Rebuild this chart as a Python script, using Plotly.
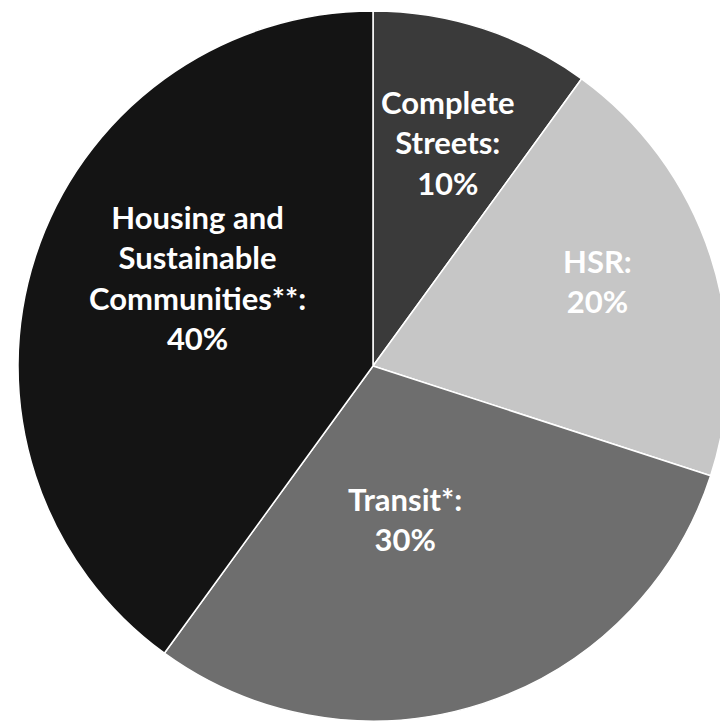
import math
import plotly.graph_objects as go

#-------------------------------------------------------------------------------
#    Data
#-------------------------------------------------------------------------------
labels = ['Complete Streets', 'HSR', 'Transit*', 'Housing and Sustainable Communities**']
shares = [10, 20, 30, 40]
label_text = [
    'Complete<br>Streets:<br>10%',
    'HSR:<br>20%',
    'Transit*:<br>30%',
    'Housing and<br>Sustainable<br>Communities**:<br>40%',
]

# style
colors = ['#3a3a3a', '#c6c6c6', '#6e6e6e', '#141414']
label_radius = [0.665, 0.677, 0.44, 0.555]   # fraction of pie radius
label_turn = [0.5, -2.7, 6.2, 8.8]           # degrees off the slice mid-angle

# page body has an 8px margin, so the figure is a bit smaller than the window
W, H = 720, 718
margin = dict(l=10, r=0, t=3, b=5)

#-------------------------------------------------------------------------------
#    Pie
#-------------------------------------------------------------------------------
fig = go.Figure(go.Pie(
    labels=labels,
    values=shares,
    sort=False,
    direction='clockwise',
    rotation=0,
    marker=dict(colors=colors, line=dict(color='white', width=1.5)),
    textinfo='none',
    hoverinfo='label+percent',
    showlegend=False,
))

# put the labels near the slice mid-angles (computed from the values)
pw = W - margin['l'] - margin['r']
ph = H - margin['t'] - margin['b']
R = min(pw, ph) / 2
total = sum(shares)
cum = 0
for txt, v, rf, turn in zip(label_text, shares, label_radius, label_turn):
    mid = (cum + v / 2) / total * 2 * math.pi + math.radians(turn)
    cum += v
    fig.add_annotation(
        x=0.5 + rf * R * math.sin(mid) / pw,
        y=0.5 + rf * R * math.cos(mid) / ph,
        xref='paper', yref='paper',
        xanchor='center', yanchor='middle',
        text=txt, showarrow=False,
        font=dict(family='Lato', size=31, color='white', weight='bold'),
        align='center',
    )

fig.update_layout(
    width=W, height=H,
    margin=margin,
    paper_bgcolor='white',
    plot_bgcolor='white',
)
fig.write_html('out.html')
